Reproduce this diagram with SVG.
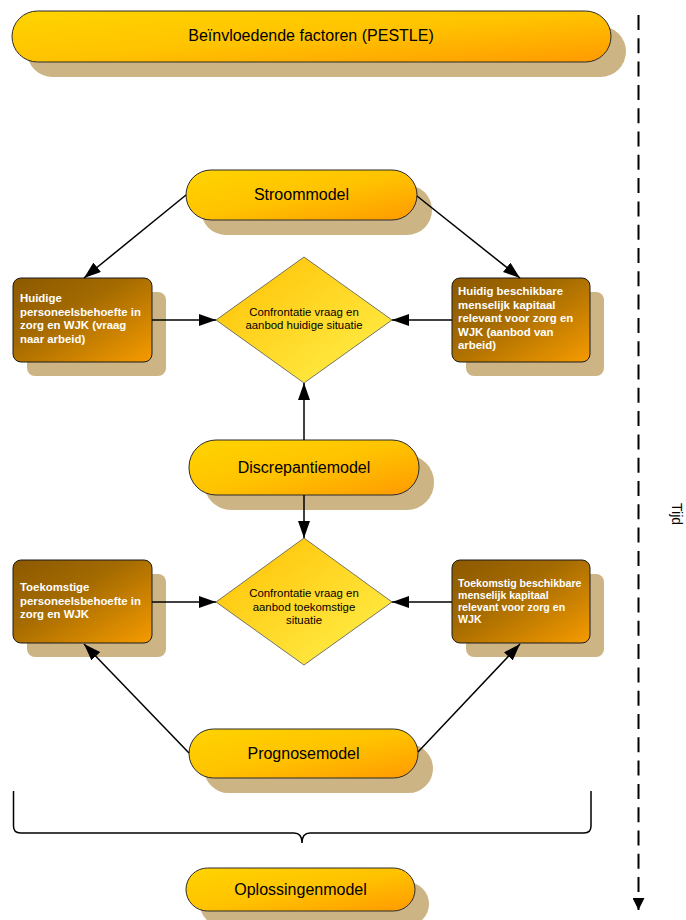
<svg xmlns="http://www.w3.org/2000/svg" width="686" height="920" viewBox="0 0 686 920">
<defs>
<linearGradient id="gPill" x1="0" y1="0" x2="1" y2="1">
<stop offset="0" stop-color="#FFD400"/>
<stop offset="0.5" stop-color="#FFC300"/>
<stop offset="1" stop-color="#FF9A00"/>
</linearGradient>
<linearGradient id="gBox" x1="0" y1="0" x2="1" y2="1">
<stop offset="0" stop-color="#8C5900"/>
<stop offset="0.4" stop-color="#A36A00"/>
<stop offset="1" stop-color="#F69B00"/>
</linearGradient>
<linearGradient id="gDia" x1="0" y1="0" x2="1" y2="1">
<stop offset="0" stop-color="#FFBF00"/>
<stop offset="1" stop-color="#FFF24E"/>
</linearGradient>
<marker id="ah" markerUnits="userSpaceOnUse" markerWidth="18" markerHeight="12" refX="17" refY="6" orient="auto">
<path d="M0,0 L17,6 L0,12 Z" fill="#000"/>
</marker>
<marker id="ahT" markerUnits="userSpaceOnUse" markerWidth="12" markerHeight="12" refX="12" refY="6" orient="auto">
<path d="M0,0 L12,6 L0,12 Z" fill="#000"/>
</marker>
</defs>
<style>
.shadow{fill:#CCB485}
.pill{fill:url(#gPill);stroke:#2a2a2a;stroke-width:1}
.box{fill:url(#gBox);stroke:#1a1a1a;stroke-width:1}
.dia{fill:url(#gDia);stroke:#555;stroke-width:0.8}
.pt{font-family:"Liberation Sans",Arial,sans-serif;font-size:16px;fill:#000;text-anchor:middle}
.bt{font-family:"Liberation Sans",Arial,sans-serif;font-size:11.4px;font-weight:bold;fill:#fff}
.bts{font-family:"Liberation Sans",Arial,sans-serif;font-size:10.6px;font-weight:bold;fill:#fff}
.dt{font-family:"Liberation Sans",Arial,sans-serif;font-size:11.4px;fill:#000;text-anchor:middle}
.conn{stroke:#000;stroke-width:1.5;fill:none}
</style>

<g id="pestle">
<rect class="shadow" x="27" y="26" width="599" height="51" rx="25.5"/>
<rect class="pill" x="12" y="11" width="599" height="51" rx="25.5"/>
<text class="pt" x="311" y="41">Beïnvloedende factoren (PESTLE)</text>
</g>

<g id="stroommodel">
<rect class="shadow" x="201" y="185" width="231" height="50" rx="25"/>
<rect class="pill" x="186" y="170" width="231" height="50" rx="25"/>
<text class="pt" x="301.5" y="200">Stroommodel</text>
</g>

<g id="huidige-vraag">
<rect class="shadow" x="27" y="292" width="139" height="84" rx="8"/>
<rect class="box" x="13" y="278" width="139" height="84" rx="8"/>
<text class="bt" x="20" y="302">Huidige</text>
<text class="bt" x="20" y="315.5">personeelsbehoefte in</text>
<text class="bt" x="20" y="329">zorg en WJK (vraag</text>
<text class="bt" x="20" y="342.5">naar arbeid)</text>
</g>

<g id="huidige-aanbod">
<rect class="shadow" x="466" y="292" width="138" height="84" rx="8"/>
<rect class="box" x="452" y="278" width="138" height="84" rx="8"/>
<text class="bt" x="458" y="295">Huidig beschikbare</text>
<text class="bt" x="458" y="308.5">menselijk kapitaal</text>
<text class="bt" x="458" y="322">relevant voor zorg en</text>
<text class="bt" x="458" y="335.5">WJK (aanbod van</text>
<text class="bt" x="458" y="349">arbeid)</text>
</g>

<g id="confrontatie-huidig">
<polygon class="dia" points="304,257 392,320 304,383 216,320"/>
<text class="dt" x="304" y="315.5">Confrontatie vraag en</text>
<text class="dt" x="304" y="329">aanbod huidige situatie</text>
</g>

<g id="discrepantiemodel">
<rect class="shadow" x="204" y="455" width="230" height="55" rx="27"/>
<rect class="pill" x="189" y="440" width="230" height="55" rx="27"/>
<text class="pt" x="304" y="473">Discrepantiemodel</text>
</g>

<g id="toekomst-vraag">
<rect class="shadow" x="27" y="574" width="139" height="83" rx="8"/>
<rect class="box" x="13" y="560" width="139" height="83" rx="8"/>
<text class="bt" x="20" y="591">Toekomstige</text>
<text class="bt" x="20" y="604.5">personeelsbehoefte in</text>
<text class="bt" x="20" y="618">zorg en WJK</text>
</g>

<g id="toekomst-aanbod">
<rect class="shadow" x="466" y="574" width="138" height="83" rx="8"/>
<rect class="box" x="452" y="560" width="138" height="83" rx="8"/>
<text class="bts" x="458" y="586.5">Toekomstig beschikbare</text>
<text class="bts" x="458" y="598.8">menselijk kapitaal</text>
<text class="bts" x="458" y="611.1">relevant voor zorg en</text>
<text class="bts" x="458" y="623.4">WJK</text>
</g>

<g id="confrontatie-toekomst">
<polygon class="dia" points="304,538 392,602 304,665 216,602"/>
<text class="dt" x="304" y="597">Confrontatie vraag en</text>
<text class="dt" x="304" y="610.5">aanbod toekomstige</text>
<text class="dt" x="304" y="624">situatie</text>
</g>

<g id="prognosemodel">
<rect class="shadow" x="204" y="744" width="229" height="49" rx="24.5"/>
<rect class="pill" x="189" y="729" width="229" height="49" rx="24.5"/>
<text class="pt" x="303.5" y="758.5">Prognosemodel</text>
</g>

<g id="brace">
<path class="conn" d="M13.5,791 L13.5,826 Q13.5,833 20.5,833 L294,833 C299,833 302,836 302,843 C302,836 305,833 310,833 L584,833 Q591,833 591,826 L591,791"/>
</g>

<g id="oplossingenmodel">
<rect class="shadow" x="200" y="882" width="229" height="44" rx="22"/>
<rect class="pill" x="186" y="868" width="229" height="43" rx="21.5"/>
<text class="pt" x="300.5" y="894.5">Oplossingenmodel</text>
</g>

<g id="tijd">
<line x1="638.5" y1="15" x2="638.5" y2="910" stroke="#000" stroke-width="2" stroke-dasharray="15 8.3" marker-end="url(#ahT)"/>
<text font-family="&quot;Liberation Sans&quot;,Arial,sans-serif" font-size="14" fill="#000" text-anchor="middle" transform="translate(672,514) rotate(90)">Tijd</text>
</g>

<g id="connectors">
<line class="conn" x1="152" y1="320" x2="216" y2="320" marker-end="url(#ah)"/>
<line class="conn" x1="452" y1="320" x2="392" y2="320" marker-end="url(#ah)"/>
<line class="conn" x1="186" y1="195" x2="84" y2="278" marker-end="url(#ah)"/>
<line class="conn" x1="417" y1="196" x2="520" y2="278" marker-end="url(#ah)"/>
<line class="conn" x1="304" y1="440" x2="304" y2="383" marker-end="url(#ah)"/>
<line class="conn" x1="304" y1="495" x2="304" y2="538" marker-end="url(#ah)"/>
<line class="conn" x1="152" y1="602" x2="216" y2="602" marker-end="url(#ah)"/>
<line class="conn" x1="452" y1="602" x2="392" y2="602" marker-end="url(#ah)"/>
<line class="conn" x1="189" y1="753" x2="84" y2="644" marker-end="url(#ah)"/>
<line class="conn" x1="418" y1="752" x2="520" y2="644" marker-end="url(#ah)"/>
</g>
</svg>
